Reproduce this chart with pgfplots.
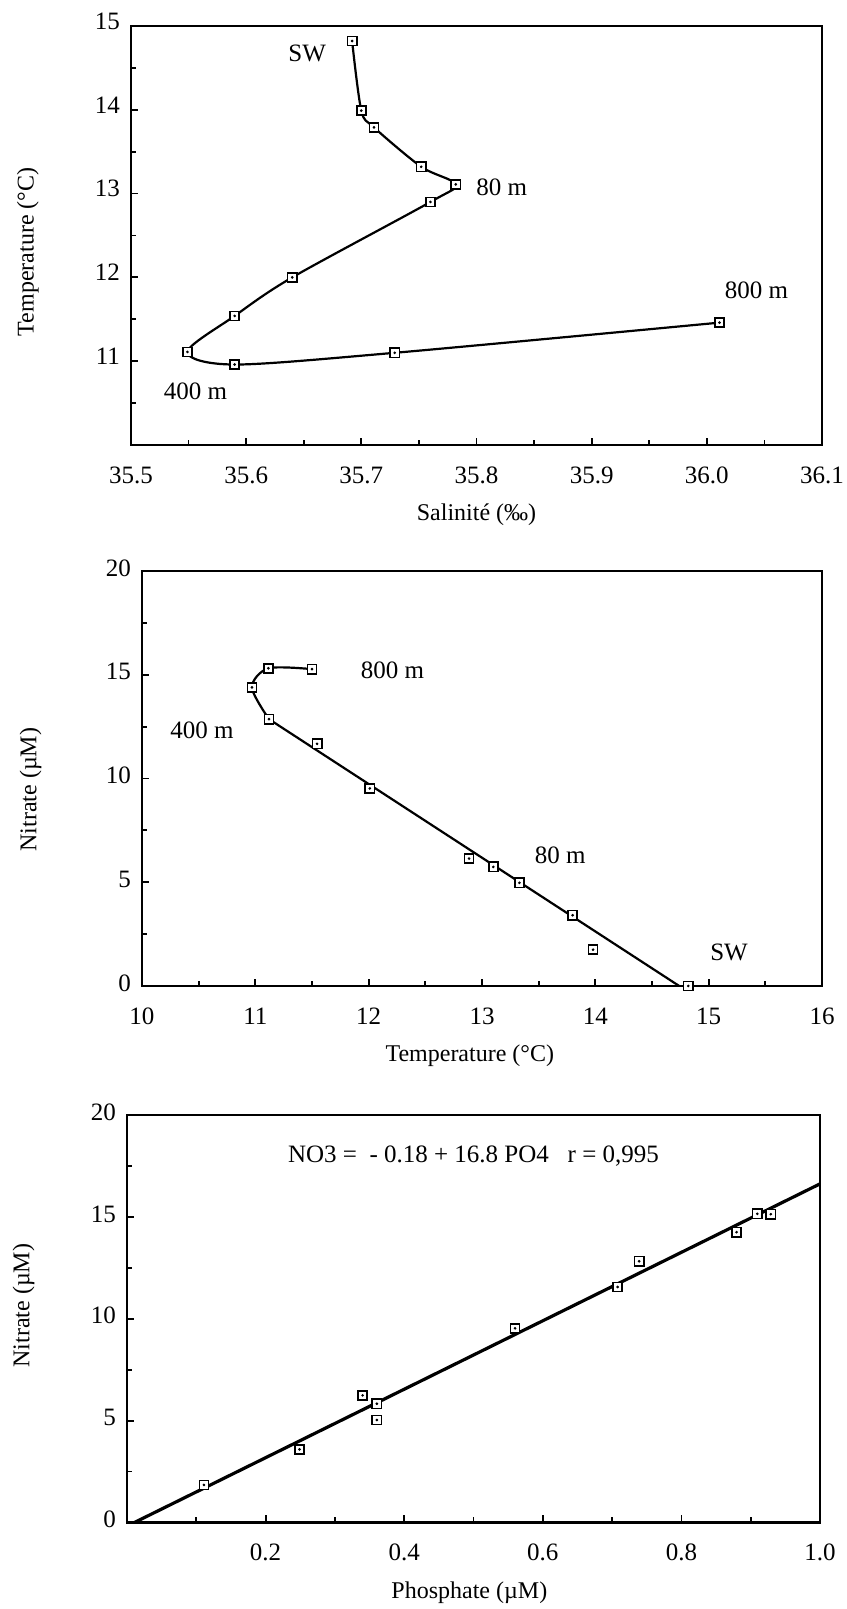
\documentclass[border=0pt]{standalone}
\usepackage{fontspec}
\setmainfont{Liberation Serif}
\usepackage{pgfplots}
\pgfplotsset{compat=1.18}
\pgfplotsset{
  myaxis/.style={
    scale only axis,
    anchor=south west,
    axis line style={line width=1.2pt},
    tick pos=left,
    tick style={line width=0.9pt, black},
    major tick length=3.5pt,
    minor tick length=2.5pt,
    /pgf/number format/assume math mode=true,
    tick label style={font=\fontsize{12.5}{14}\selectfont},
    label style={font=\fontsize{12}{14}\selectfont},
    xticklabel style={anchor=center, yshift=-15pt},
    yticklabel style={anchor=east, xshift=-2pt, yshift=1.5pt},
    clip=false,
  },
}
\tikzset{
  dat/.style={black, only marks, mark=square*, mark size=2.3pt, mark options={fill=white, draw=black, line width=0.8pt}},
  dot/.style={black, only marks, mark=*, mark size=0.45pt},
  lbl/.style={font=\fontsize{12.5}{14}\selectfont, anchor=center},
}
\begin{document}
\begin{tikzpicture}
\useasboundingbox (0,0) rectangle (423pt,804.5pt);
% ---------- Plot 1: T-S ----------
\begin{axis}[myaxis, at={(65.5pt,582pt)}, width=345.5pt, height=209.5pt,
  xmin=35.5, xmax=36.1, ymin=10, ymax=15,
  xtick={35.5,35.6,35.7,35.8,35.9,36.0,36.1},
  minor xtick={35.55,35.65,35.75,35.85,35.95,36.05},
  ytick={11,12,13,14,15},
  minor ytick={10.5,11.5,12.5,13.5,14.5},
  xticklabel={\pgfmathprintnumber[fixed,fixed zerofill,precision=1]{\tick}},
  yticklabel style={yshift=1pt},
  xlabel={Salinité (‰)},
  ylabel={Temperature (°C)},
  xlabel style={at={(axis description cs:0.5,-0.1671)}, anchor=center},
  ylabel style={at={(axis description cs:-0.1493,0.461)}, anchor=center},
]
\addplot[black, line width=1.1pt, smooth, no marks] coordinates {
(35.692,14.82) (35.700,13.99) (35.711,13.79) (35.752,13.32) (35.782,13.11) (35.760,12.90) (35.640,12.00) (35.590,11.54) (35.549,11.11) (35.590,10.96) (35.729,11.10) (36.011,11.46)};
\addplot[dat] coordinates {
(35.692,14.82) (35.700,13.99) (35.711,13.79) (35.752,13.32) (35.782,13.11) (35.760,12.90) (35.640,12.00) (35.590,11.54) (35.549,11.11) (35.590,10.96) (35.729,11.10) (36.011,11.46)};
\addplot[dot] coordinates {
(35.692,14.82) (35.700,13.99) (35.711,13.79) (35.752,13.32) (35.782,13.11) (35.760,12.90) (35.640,12.00) (35.590,11.54) (35.549,11.11) (35.590,10.96) (35.729,11.10) (36.011,11.46)};
\node[lbl] at (axis cs:35.653,14.67) {SW};
\node[lbl] at (axis cs:35.822,13.07) {80 m};
\node[lbl] at (axis cs:36.043,11.85) {800 m};
\node[lbl] at (axis cs:35.556,10.64) {400 m};
\end{axis}
% ---------- Plot 2: Nitrate vs T ----------
\begin{axis}[myaxis, at={(71pt,311.5pt)}, width=340pt, height=207.5pt,
  xmin=10, xmax=16, ymin=0, ymax=20,
  xtick={10,11,12,13,14,15,16},
  minor xtick={10.5,11.5,12.5,13.5,14.5,15.5},
  ytick={0,5,10,15,20},
  minor ytick={2.5,7.5,12.5,17.5},
  xlabel={Temperature (°C)},
  ylabel={Nitrate (µM)},
  xlabel style={at={(axis description cs:0.482,-0.1687)}, anchor=center},
  ylabel style={at={(axis description cs:-0.1638,0.473)}, anchor=center},
]
\addplot[black, line width=1.1pt, smooth, no marks] coordinates {
(11.50,15.27) (11.115,15.31) (10.97,14.39) (11.12,12.86)};
\addplot[black, line width=1.1pt, no marks] coordinates {
(11.12,12.86) (14.74,0)};
\addplot[dat] coordinates {
(11.50,15.27) (11.115,15.31) (10.97,14.39) (11.12,12.86) (11.545,11.67) (12.01,9.52) (12.886,6.14) (13.10,5.74) (13.33,4.97) (13.80,3.41) (13.98,1.75) (14.82,0.0)};
\addplot[dot] coordinates {
(11.50,15.27) (11.115,15.31) (10.97,14.39) (11.12,12.86) (11.545,11.67) (12.01,9.52) (12.886,6.14) (13.10,5.74) (13.33,4.97) (13.80,3.41) (13.98,1.75) (14.82,0.0)};
\node[lbl] at (axis cs:12.21,15.22) {800 m};
\node[lbl] at (axis cs:10.53,12.33) {400 m};
\node[lbl] at (axis cs:13.69,6.30) {80 m};
\node[lbl] at (axis cs:15.18,1.61) {SW};
\end{axis}
% ---------- Plot 3: Nitrate vs Phosphate ----------
\begin{axis}[myaxis, at={(63.5pt,43.25pt)}, width=346.5pt, height=203.75pt,
  xmin=0, xmax=1, ymin=0, ymax=20,
  xtick={0.2,0.4,0.6,0.8,1.0},
  minor xtick={0.1,0.3,0.5,0.7,0.9},
  ytick={0,5,10,15,20},
  minor ytick={2.5,7.5,12.5,17.5},
  xticklabel={\pgfmathprintnumber[fixed,fixed zerofill,precision=1]{\tick}},
  xlabel={Phosphate (µM)},
  ylabel={Nitrate (µM)},
  xlabel style={at={(axis description cs:0.494,-0.1718)}, anchor=center},
  ylabel style={at={(axis description cs:-0.1492,0.532)}, anchor=center},
]
\addplot[black, line width=1.6pt, no marks] coordinates {
(0.0107,0) (1.0,16.62)};
\addplot[dat] coordinates {
(0.111,1.845) (0.249,3.59) (0.340,6.24) (0.3605,5.83) (0.3605,5.03) (0.560,9.53) (0.708,11.56) (0.739,12.82) (0.8796,14.25) (0.9095,15.15) (0.929,15.13)};
\addplot[dot] coordinates {
(0.111,1.845) (0.249,3.59) (0.340,6.24) (0.3605,5.83) (0.3605,5.03) (0.560,9.53) (0.708,11.56) (0.739,12.82) (0.8796,14.25) (0.9095,15.15) (0.929,15.13)};
\node[lbl] at (axis cs:0.5,17.96) {NO3 =\ \ - 0.18 + 16.8 PO4\ \ \ r = 0,995};
\end{axis}
\end{tikzpicture}
\end{document}
